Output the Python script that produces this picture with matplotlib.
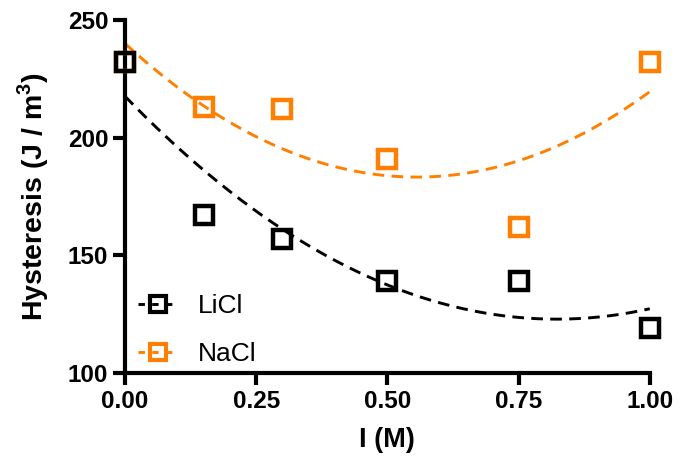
import numpy as np
import matplotlib
matplotlib.use("Agg")
import matplotlib.pyplot as plt

plt.rcParams['font.family'] = ['Liberation Sans', 'DejaVu Sans']
plt.rcParams['mathtext.fontset'] = 'custom'
plt.rcParams['mathtext.bf'] = 'Liberation Sans:bold'

# salt concentration (M) and hysteresis (J/m^3)
conc = [0.0, 0.15, 0.30, 0.50, 0.75, 1.00]
licl = [232, 167, 157, 139, 139, 119]
nacl = [232, 213, 212, 191, 162, 232]
orange = '#FF8000'

fig = plt.figure(figsize=(6.79, 4.61), dpi=100)
ax = fig.add_axes([0.184, 0.191, 0.773, 0.766])

xs = np.linspace(0, 1, 200)
# LiCl markers drawn on top (they hide the NaCl point at 0)
for y, c, name, z in [(licl, 'black', 'LiCl', 6), (nacl, orange, 'NaCl', 5)]:
    # second order polynomial fit
    p = np.polyfit(conc, y, 2)
    ax.plot(xs, np.polyval(p, xs), '--', color=c, lw=2.1, dashes=(4, 2.5), clip_on=False)
    ax.plot(conc, y, 's', mfc='none', mec=c, ms=12.5, mew=3.2, clip_on=False, zorder=z)
    ax.plot([], [], '--s', color=c, mfc='none', mec=c, ms=11, mew=3.0, lw=2.1,
            dashes=(2.2, 2.5), label=name)

ax.set_xlim(0, 1)
ax.set_ylim(100, 250)
ax.set_xticks([0, 0.25, 0.5, 0.75, 1.0])
ax.set_xticklabels(['0.00', '0.25', '0.50', '0.75', '1.00'])
ax.set_yticks([100, 150, 200, 250])
for s in ['top', 'right']:
    ax.spines[s].set_visible(False)
for s in ['left', 'bottom']:
    ax.spines[s].set_linewidth(3.0)
ax.tick_params(width=3.0, length=8.5, labelsize=17.5, pad=3.5)
for lab in ax.get_xticklabels() + ax.get_yticklabels():
    lab.set_fontweight('bold')

ax.set_xlabel('I (M)', fontsize=19.5, fontweight='bold', labelpad=10)
ax.set_ylabel('Hysteresis (J / m$^\\mathbf{3}$)', fontsize=20.5, fontweight='bold', labelpad=12)

ax.legend(loc='lower left', bbox_to_anchor=(0.0, -0.018), frameon=False, fontsize=19,
          handlelength=1.5, handletextpad=0.76, borderaxespad=0.1, labelspacing=0.92)

plt.savefig('out.png', dpi=100)
